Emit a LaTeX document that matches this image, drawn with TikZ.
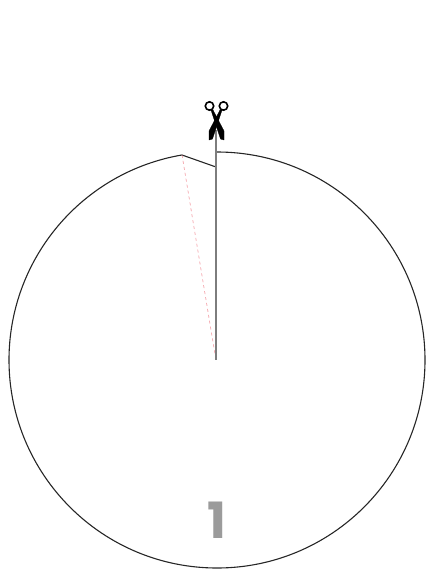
\documentclass[tikz,border=0pt]{standalone}
\usepackage{fontspec}
\setsansfont{Poppins}
\definecolor{CutGray}{RGB}{125, 125, 125}
\definecolor{FoldRed}{RGB}{240, 130, 140}
\definecolor{NumGray}{RGB}{155, 155, 155}
\usetikzlibrary{positioning, calc}

\begin{document}
\begin{tikzpicture}[
    x=1pt, y=-1pt,
    outline/.style={draw=black!85, line width=1.1pt},
    cutline/.style={draw=CutGray, line width=2pt},
    foldline/.style={draw=FoldRed, line width=0.5pt, dashed},
    blade/.style={fill=black, draw=black, line width=0.3pt, line join=round},
    ring/.style={draw=black, line width=1.6pt},
    number/.style={font=\sffamily\bfseries\fontsize{50}{50}\selectfont, text=NumGray}
]
\useasboundingbox (0,0) rectangle (425,572);
\coordinate (center) at (216,360);
\coordinate (start) at (217,152);
\coordinate (corner) at (182,155);
\coordinate (notch) at (216,167);
\coordinate (top) at (216,130);
\draw[outline] (start) arc[start angle=-90, end angle=260.4, radius=208] -- (corner) -- (notch);
\draw[foldline] (corner) -- (center);
\draw[cutline] (top) -- (center);
% scissors
\fill[blade] (211,110) -- (213,110) -- (224,131) -- (224,140) -- (220.5,139) -- cycle;
\fill[blade] (220,110) -- (222,110) -- (212.5,139) -- (209,140) -- (209,131) -- cycle;
\draw[ring] (209.5,106) circle[radius=4.2];
\draw[ring] (223.5,106) circle[radius=4.2];
\node[number] (num) at (216.5,520) {1};
\end{tikzpicture}
\end{document}
